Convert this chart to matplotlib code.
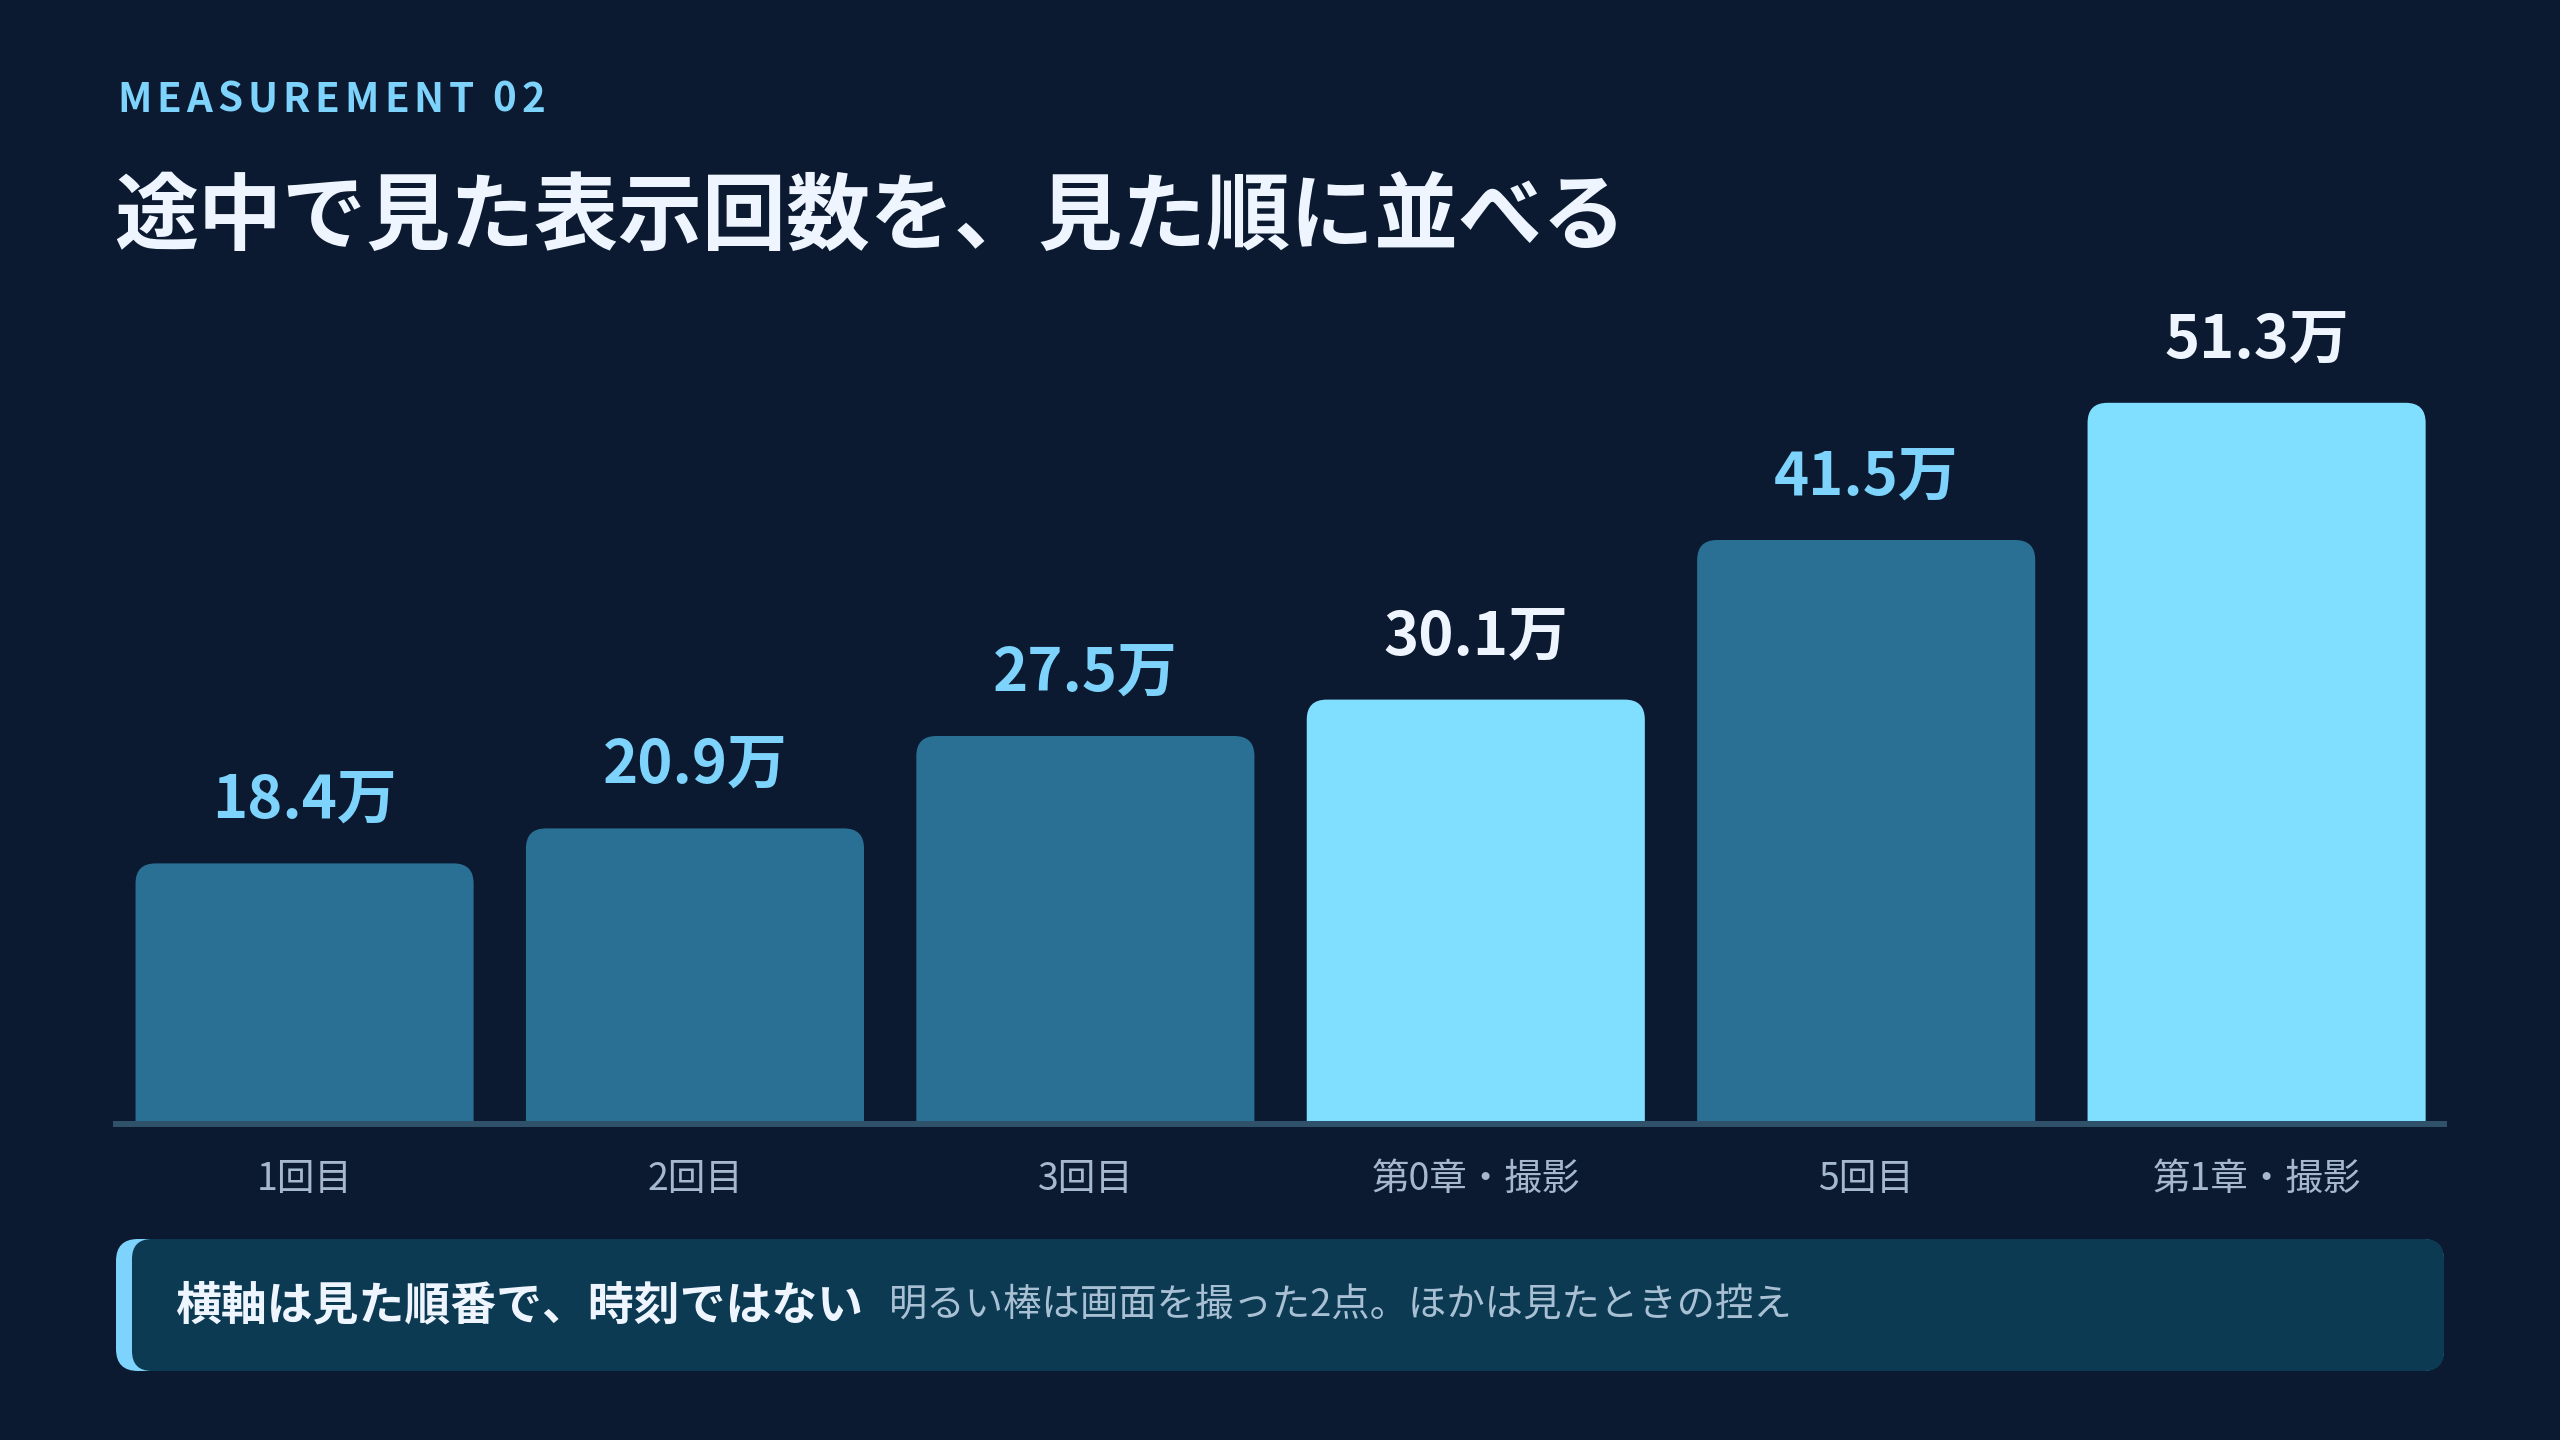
import matplotlib
matplotlib.use('Agg')
import matplotlib.pyplot as plt
from matplotlib.patches import FancyBboxPatch

plt.rcParams['font.family'] = ['Noto Sans CJK JP', 'DejaVu Sans']

# data
categories = ['1回目', '2回目', '3回目', '第0章・撮影', '5回目', '第1章・撮影']
values = [18.4, 20.9, 27.5, 30.1, 41.5, 51.3]
highlight = [False, False, False, True, False, True]
value_labels = ['18.4万', '20.9万', '27.5万', '30.1万', '41.5万', '51.3万']

eyebrow = 'MEASUREMENT 02'
title = '途中で見た表示回数を、見た順に並べる'
note_bold = '横軸は見た順番で、時刻ではない'
note_text = '明るい棒は画面を撮った2点。ほかは見たときの控え'

# colours
BG = '#0b1a30'
BAR_DARK = '#2a6f94'
BAR_LIGHT = '#80dfff'
CYAN = '#7dd3fc'
WHITE = '#eef5ff'
AXIS = '#2f5169'
TICK = '#a6b9cc'
NOTE_BG = '#0b3a52'
NOTE_SUB = '#a9c0d4'

W, H = 2560, 1440
fig = plt.figure(figsize=(W / 100, H / 100), dpi=100, facecolor=BG)

# overlay axes in pixel units for the header and the note box
deco = fig.add_axes([0, 0, 1, 1], zorder=0)
deco.set_xlim(0, W)
deco.set_ylim(H, 0)
deco.axis('off')
deco.patch.set_alpha(0)

renderer = fig.canvas.get_renderer()


def spaced_text(ax, x, y, s, spacing, **kw):
    # draw text one char at a time to get letter spacing
    for ch in s:
        t = ax.text(x, y, ch, **kw)
        w = t.get_window_extent(renderer).width
        if ch == ' ':
            w = kw.get('fontsize', 20) * 0.3
        x += w + spacing


spaced_text(deco, 117, 100, eyebrow, 5.0, fontsize=29, fontweight='bold',
            color=CYAN, va='center', ha='left')
deco.text(114, 219, title, fontsize=60.5, fontweight='bold', color=WHITE,
          va='center', ha='left')

# note box with left accent
deco.add_patch(FancyBboxPatch((116, 1239), 2328, 132,
                              boxstyle='round,pad=0,rounding_size=22',
                              facecolor=CYAN, edgecolor='none'))
deco.add_patch(FancyBboxPatch((132, 1239), 2312, 132,
                              boxstyle='round,pad=0,rounding_size=20',
                              facecolor=NOTE_BG, edgecolor='none'))
deco.add_patch(plt.Rectangle((160, 1239), 200, 132, facecolor=NOTE_BG,
                             edgecolor='none'))
t = deco.text(175, 1306, note_bold, fontsize=33, fontweight='bold',
              color=WHITE, va='center', ha='left')
bb = t.get_window_extent(renderer)
deco.text(bb.x1 + 26, 1306, note_text, fontsize=27.6, color=NOTE_SUB,
          va='center', ha='left')

# chart axes
px_per_unit = 14.0
ax_bottom, ax_top = 1124, 300
ax = fig.add_axes([116 / W, (H - ax_bottom) / H, 2328 / W, (ax_bottom - ax_top) / H], zorder=1)
ax.patch.set_alpha(0)
ax.set_xlim(-0.483, 5.480)
y0 = -3 / px_per_unit
ax.set_ylim(y0, y0 + (ax_bottom - ax_top) / px_per_unit)

x_unit_px = 2328 / (5.480 + 0.483)
radius = 20 / x_unit_px
aspect = x_unit_px / px_per_unit

bars = ax.bar(range(len(values)), values, width=0.866)
for rect, hl in zip(bars, highlight):
    x, w, h = rect.get_x(), rect.get_width(), rect.get_height()
    rect.remove()
    ax.add_patch(FancyBboxPatch((x, -2), w, h + 2,
                                boxstyle=f'round,pad=0,rounding_size={radius}',
                                mutation_aspect=aspect,
                                facecolor=BAR_LIGHT if hl else BAR_DARK,
                                edgecolor='none', zorder=2))

for i, (v, lab, hl) in enumerate(zip(values, value_labels, highlight)):
    ax.annotate(lab, xy=(i, v), xytext=(0, 32), textcoords='offset points',
                ha='center', va='baseline', fontsize=43, fontweight='bold',
                color=WHITE if hl else CYAN)

for side in ['top', 'right', 'left']:
    ax.spines[side].set_visible(False)
ax.spines['bottom'].set_color(AXIS)
ax.spines['bottom'].set_linewidth(4.32)
ax.spines['bottom'].set_zorder(3)
ax.set_yticks([])
ax.set_xticks(range(len(categories)), categories)
ax.tick_params(axis='x', length=0, pad=26, labelsize=27, labelcolor=TICK)

fig.savefig('out.png', dpi=100, facecolor=BG)
